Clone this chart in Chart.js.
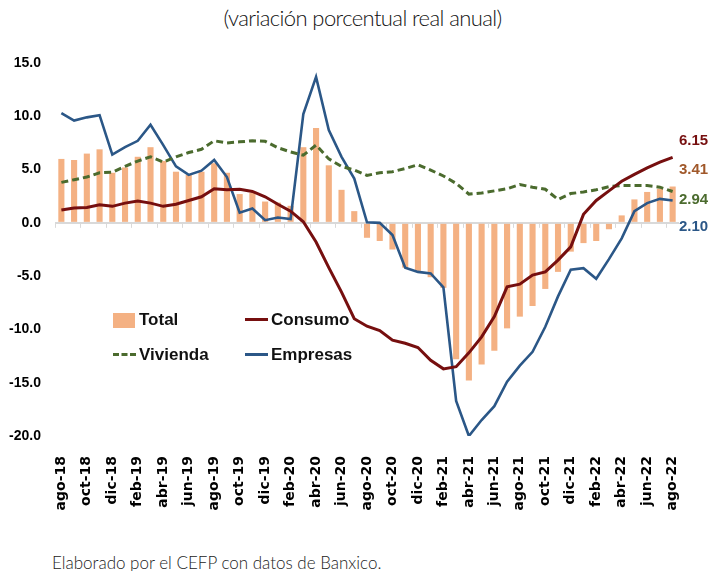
<!DOCTYPE html>
<html>
<head>
<meta charset="utf-8">
<script src="https://cdn.jsdelivr.net/npm/chart.js@4"></script>
<style>
  body { margin: 0; background: #fff; width: 710px; height: 571px; overflow: hidden; position: relative; font-family: "Liberation Sans", sans-serif; }
  #wrap { position: absolute; left: 0; top: 0; width: 710px; height: 540px; }
  .title { position: absolute; left: 0; width: 725px; top: 4px; text-align: center; font-family: Lato, sans-serif; font-weight: 300; font-size: 22px; letter-spacing: -0.6px; color: #111; }
  .foot { position: absolute; left: 52px; top: 552px; font-family: Lato, sans-serif; font-weight: 300; font-size: 17px; color: #222; }
  .leg { position: absolute; font-weight: bold; font-size: 17px; color: #111; line-height: 18px; }
  .mk { position: absolute; }
  .end { position: absolute; left: 679px; font-weight: bold; font-size: 15px; line-height: 16px; }
</style>
</head>
<body>
<div class="title">(variación porcentual real anual)</div>
<div id="wrap"><canvas id="chart"></canvas></div>

<div class="mk" style="left:113px;top:313px;width:22px;height:15px;background:#F4B183"></div>
<div class="leg" style="left:139px;top:311px">Total</div>
<div class="mk" style="left:245px;top:318px;width:23px;height:3px;background:#760F0F"></div>
<div class="leg" style="left:271px;top:311px">Consumo</div>
<div class="mk" style="left:113px;top:353px;width:23px;height:0;border-top:3px dashed #4B6B2E"></div>
<div class="leg" style="left:139px;top:346px">Vivienda</div>
<div class="mk" style="left:245px;top:353px;width:23px;height:3px;background:#2B5787"></div>
<div class="leg" style="left:271px;top:346px">Empresas</div>

<div class="end" style="top:132px;color:#760F0F">6.15</div>
<div class="end" style="top:161px;color:#A0582A">3.41</div>
<div class="end" style="top:191px;color:#4B6B2E">2.94</div>
<div class="end" style="top:218px;color:#2B5787">2.10</div>

<div class="foot">Elaborado por el CEFP con datos de Banxico.</div>

<script>
const months = [
  'ago-18','sep-18','oct-18','nov-18','dic-18',
  'ene-19','feb-19','mar-19','abr-19','may-19','jun-19','jul-19','ago-19','sep-19','oct-19','nov-19','dic-19',
  'ene-20','feb-20','mar-20','abr-20','may-20','jun-20','jul-20','ago-20','sep-20','oct-20','nov-20','dic-20',
  'ene-21','feb-21','mar-21','abr-21','may-21','jun-21','jul-21','ago-21','sep-21','oct-21','nov-21','dic-21',
  'ene-22','feb-22','mar-22','abr-22','may-22','jun-22','jul-22','ago-22'
];

const total = [6.0, 5.9, 6.5, 6.9, 4.7, 5.2, 6.2, 7.1, 5.8, 4.8, 4.5, 4.8, 5.6, 4.7, 2.7, 2.8, 2.0,
  1.9, 1.6, 7.1, 8.9, 5.4, 3.1, 1.1, -1.4, -1.7, -2.5, -4.2, -4.5, -5.1, -6.1, -12.8, -14.8,
  -13.3, -12.0, -9.9, -8.8, -7.8, -6.2, -4.6, -2.7, -1.9, -1.7, -0.6, 0.7, 2.2, 2.9, 3.2, 3.41];

const consumo = [1.2, 1.4, 1.45, 1.7, 1.55, 1.85, 2.05, 1.85, 1.55, 1.75, 2.1, 2.45, 3.2, 3.1, 3.15, 2.95, 2.45,
  1.75, 1.1, 0.1, -1.8, -4.2, -6.5, -9.0, -9.7, -10.1, -11.0, -11.3, -11.7, -12.9, -13.7, -13.5, -12.2,
  -10.7, -8.8, -6.0, -5.75, -4.9, -4.6, -3.5, -2.25, 0.8, 2.1, 3.0, 3.9, 4.55, 5.15, 5.7, 6.15];

const vivienda = [3.8, 4.05, 4.3, 4.7, 4.75, 5.3, 5.8, 6.2, 5.7, 6.2, 6.6, 6.9, 7.7, 7.5, 7.6, 7.7, 7.65,
  7.05, 6.65, 6.35, 7.3, 6.0, 5.3, 4.95, 4.45, 4.7, 4.8, 5.1, 5.45, 4.95, 4.4, 3.7, 2.7,
  2.8, 3.0, 3.2, 3.6, 3.35, 3.15, 2.2, 2.75, 2.9, 3.1, 3.4, 3.5, 3.5, 3.5, 3.35, 2.94];

const empresas = [10.3, 9.6, 9.9, 10.1, 6.4, 7.1, 7.7, 9.2, 7.3, 5.3, 4.5, 4.9, 5.9, 4.3, 0.95, 1.35, 0.25,
  0.5, 0.35, 10.2, 13.7, 8.7, 6.2, 4.15, 0.05, 0.0, -1.15, -4.2, -4.6, -4.75, -6.05, -16.7, -20.0,
  -18.5, -17.2, -14.9, -13.4, -12.1, -9.75, -6.9, -4.4, -4.25, -5.25, -3.4, -1.45, 1.1, 1.85, 2.25, 2.10];

// small tick marks under the zero line, every other month
const zeroTicks = {
  id: 'zeroTicks',
  beforeDatasetsDraw(chart) {
    const { ctx, scales: { x, y } } = chart;
    const y0 = y.getPixelForValue(0);
    const half = (x.getPixelForValue(1) - x.getPixelForValue(0)) / 2;
    ctx.save();
    ctx.strokeStyle = '#d9d9d9';
    ctx.lineWidth = 1;
    ctx.beginPath();
    for (let i = 0; i < months.length; i += 2) {
      const px = Math.round(x.getPixelForValue(i) - half) + 0.5;
      ctx.moveTo(px, y0);
      ctx.lineTo(px, y0 + 5);
    }
    ctx.stroke();
    ctx.restore();
  }
};

new Chart(document.getElementById('chart'), {
  data: {
    labels: months,
    datasets: [
      { type: 'line', label: 'Consumo', data: consumo, borderColor: '#760F0F', borderWidth: 3,
        pointRadius: 0, tension: 0, fill: false },
      { type: 'line', label: 'Vivienda', data: vivienda, borderColor: '#4B6B2E', borderWidth: 3,
        borderDash: [7, 4], pointRadius: 0, tension: 0, fill: false },
      { type: 'line', label: 'Empresas', data: empresas, borderColor: '#2B5787', borderWidth: 2.6,
        pointRadius: 0, tension: 0, fill: false },
      { type: 'bar', label: 'Total', data: total, backgroundColor: '#F4B183',
        barPercentage: 1, categoryPercentage: 0.48 }
    ]
  },
  options: {
    responsive: true,
    maintainAspectRatio: false,
    animation: false,
    devicePixelRatio: 1,
    layout: { padding: { left: 4, right: 31, top: 63, bottom: 0 } },
    plugins: {
      legend: { display: false },
      tooltip: { enabled: false }
    },
    scales: {
      x: {
        offset: true,
        grid: { display: false },
        border: { display: false },
        afterFit: (s) => { s.height = 104; },
        ticks: {
          autoSkip: false,
          minRotation: 90,
          maxRotation: 90,
          padding: 12,
          color: '#000',
          font: { family: 'DejaVu Sans', weight: 'bold', size: 14 },
          callback: (v, i) => (i % 2 === 0 ? months[i] : '')
        }
      },
      y: {
        min: -20,
        max: 15,
        afterFit: (s) => { s.width = 51; },
        border: { display: false },
        grid: {
          drawTicks: false,
          lineWidth: 2,
          color: (c) => (c.tick && c.tick.value === 0 ? '#d9d9d9' : 'rgba(0,0,0,0)')
        },
        ticks: {
          stepSize: 5,
          padding: 14,
          color: '#000',
          font: { family: 'Liberation Sans', weight: 'bold', size: 14 },
          callback: (v) => v.toFixed(1)
        }
      }
    }
  },
  plugins: [zeroTicks]
});
</script>
</body>
</html>
